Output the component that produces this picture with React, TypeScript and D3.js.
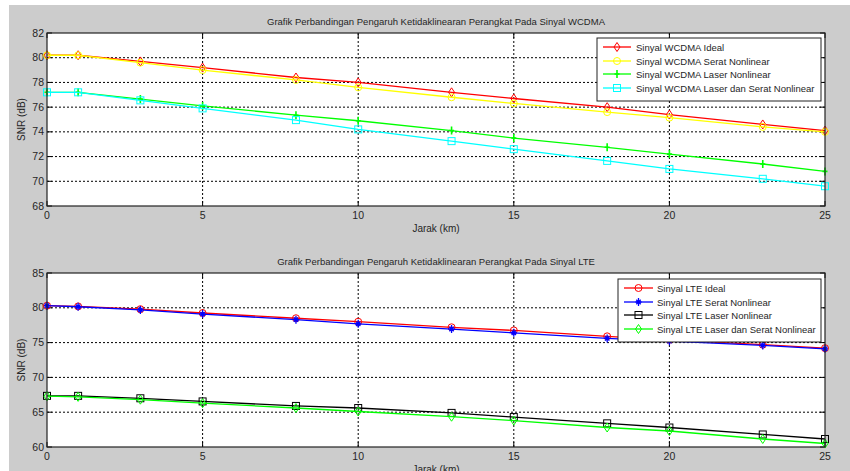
import React from "react";
import * as d3 from "d3";

const jarak = [0, 1, 3, 5, 8, 10, 13, 15, 18, 20, 23, 25];

const wcdmaIdeal = [80.2, 80.2, 79.7, 79.2, 78.4, 78.0, 77.2, 76.7, 76.0, 75.4, 74.6, 74.1];
const wcdmaSerat = [80.2, 80.2, 79.6, 79.0, 78.2, 77.6, 76.8, 76.3, 75.6, 75.15, 74.4, 74.0];
const wcdmaLaser = [77.2, 77.2, 76.65, 76.1, 75.35, 74.9, 74.1, 73.5, 72.75, 72.2, 71.4, 70.8];
const wcdmaLaserSerat = [77.2, 77.2, 76.55, 75.9, 74.95, 74.2, 73.25, 72.6, 71.65, 71.0, 70.2, 69.6];

const lteIdeal = [80.3, 80.2, 79.8, 79.25, 78.5, 78.0, 77.2, 76.75, 75.9, 75.4, 74.7, 74.2];
const lteSerat = [80.3, 80.15, 79.7, 79.1, 78.3, 77.7, 76.95, 76.4, 75.6, 75.2, 74.6, 74.1];
const lteLaser = [67.35, 67.35, 67.0, 66.55, 65.9, 65.6, 64.9, 64.3, 63.4, 62.8, 61.8, 61.15];
const lteLaserSerat = [67.3, 67.2, 66.8, 66.3, 65.6, 65.1, 64.35, 63.8, 62.8, 62.3, 61.15, 60.5];

const xTicks = [0, 5, 10, 15, 20, 25];
const yTicksTop = [68, 70, 72, 74, 76, 78, 80, 82];
const yTicksBottom = [60, 65, 70, 75, 80, 85];

const titleTop = "Grafik Perbandingan Pengaruh Ketidaklinearan Perangkat Pada Sinyal WCDMA";
const titleBottom = "Grafik Perbandingan Pengaruh Ketidaklinearan Perangkat Pada Sinyal LTE";
const xLabel = "Jarak (km)";
const yLabel = "SNR (dB)";

type Marker = "diamond" | "circle" | "plus" | "square" | "star";
interface Series {
  name: string;
  values: number[];
  color: string;
  marker: Marker;
}

const seriesTop: Series[] = [
  { name: "Sinyal WCDMA Ideal", values: wcdmaIdeal, color: "#ff0000", marker: "diamond" },
  { name: "Sinyal WCDMA Serat Nonlinear", values: wcdmaSerat, color: "#ffff00", marker: "circle" },
  { name: "Sinyal WCDMA Laser Nonlinear", values: wcdmaLaser, color: "#00ff00", marker: "plus" },
  { name: "Sinyal WCDMA Laser dan Serat Nonlinear", values: wcdmaLaserSerat, color: "#00ffff", marker: "square" },
];

const seriesBottom: Series[] = [
  { name: "Sinyal LTE Ideal", values: lteIdeal, color: "#ff0000", marker: "circle" },
  { name: "Sinyal LTE Serat Nonlinear", values: lteSerat, color: "#0000ff", marker: "star" },
  { name: "Sinyal LTE Laser Nonlinear", values: lteLaser, color: "#000000", marker: "square" },
  { name: "Sinyal LTE Laser dan Serat Nonlinear", values: lteLaserSerat, color: "#00ff00", marker: "diamond" },
];

const FONT = "'Liberation Sans', Arial, sans-serif";
const TXT = "#262626";

function MarkerShape({ type, x, y, color }: { type: Marker; x: number; y: number; color: string }) {
  const sw = 1;
  switch (type) {
    case "diamond":
      return (
        <path d={`M${x},${y - 4.5}L${x + 3},${y}L${x},${y + 4.5}L${x - 3},${y}Z`} fill="none" stroke={color} strokeWidth={sw} />
      );
    case "circle":
      return <circle cx={x} cy={y} r={3.5} fill="none" stroke={color} strokeWidth={sw} />;
    case "square":
      return <rect x={x - 3.5} y={y - 3.5} width={7} height={7} fill="none" stroke={color} strokeWidth={sw} />;
    case "plus":
      return (
        <path d={`M${x - 2.5},${y}L${x + 2.5},${y}M${x},${y - 4}L${x},${y + 4}`} stroke={color} strokeWidth={1.6} fill="none" />
      );
    case "star":
      return (
        <path
          d={`M${x - 3},${y}L${x + 3},${y}M${x},${y - 4}L${x},${y + 4}M${x - 2.2},${y - 2.2}L${x + 2.2},${y + 2.2}M${x - 2.2},${y + 2.2}L${x + 2.2},${y - 2.2}`}
          stroke={color}
          strokeWidth={1.3}
          fill="none"
        />
      );
  }
}

interface PanelProps {
  top: number;
  bottom: number;
  yDomain: [number, number];
  yTicks: number[];
  series: Series[];
  title: string;
  legend: { x0: number; x1: number; y0: number; rowY: number[]; lineX0: number; lineX1: number; textX: number };
}

const LEFT = 47;
const RIGHT = 825;

function Panel({ top, bottom, yDomain, yTicks, series, title, legend }: PanelProps) {
  const x = d3.scaleLinear().domain([0, 25]).range([LEFT, RIGHT]);
  const y = d3.scaleLinear().domain(yDomain).range([bottom, top]);
  const line = d3
    .line<number>()
    .x((_, i) => x(jarak[i]))
    .y((v) => y(v));
  const legH = legend.rowY[legend.rowY.length - 1] - legend.rowY[0] + 22;
  return (
    <g>
      <rect x={LEFT} y={top} width={RIGHT - LEFT} height={bottom - top} fill="#ffffff" />
      {xTicks.slice(1, -1).map((t) => (
        <line key={"gx" + t} x1={x(t)} x2={x(t)} y1={top} y2={bottom} stroke="#000" strokeWidth={1} strokeDasharray="2,2" />
      ))}
      {yTicks.slice(1, -1).map((t) => (
        <line key={"gy" + t} x1={LEFT} x2={RIGHT} y1={y(t)} y2={y(t)} stroke="#000" strokeWidth={1} strokeDasharray="2,2" />
      ))}
      {xTicks.map((t) => (
        <g key={"tx" + t}>
          <line x1={x(t)} x2={x(t)} y1={bottom} y2={bottom - 5} stroke="#000" />
          <line x1={x(t)} x2={x(t)} y1={top} y2={top + 5} stroke="#000" />
          <text x={x(t)} y={bottom + 13} textAnchor="middle" fontFamily={FONT} fontSize={10.5} fill={TXT}>
            {t}
          </text>
        </g>
      ))}
      {yTicks.map((t) => (
        <g key={"ty" + t}>
          <line x1={LEFT} x2={LEFT + 5} y1={y(t)} y2={y(t)} stroke="#000" />
          <line x1={RIGHT} x2={RIGHT - 5} y1={y(t)} y2={y(t)} stroke="#000" />
          <text x={LEFT - 3} y={y(t) + 3.5} textAnchor="end" fontFamily={FONT} fontSize={10.5} fill={TXT}>
            {t}
          </text>
        </g>
      ))}
      {series.map((s) => (
        <g key={s.name}>
          <path d={line(s.values) || ""} fill="none" stroke={s.color} strokeWidth={1.3} />
          {s.values.map((v, i) => (
            <MarkerShape key={i} type={s.marker} x={x(jarak[i])} y={y(v)} color={s.color} />
          ))}
        </g>
      ))}
      <rect x={LEFT} y={top} width={RIGHT - LEFT} height={bottom - top} fill="none" stroke="#222" strokeWidth={1.2} />
      <text x={(LEFT + RIGHT) / 2} y={top - 8} textAnchor="middle" fontFamily={FONT} fontSize={9.5} fill={TXT}>
        {title}
      </text>
      <text x={(LEFT + RIGHT) / 2} y={bottom + 26} textAnchor="middle" fontFamily={FONT} fontSize={10} fill={TXT}>
        {xLabel}
      </text>
      <text
        transform={`translate(${LEFT - 22},${(top + bottom) / 2}) rotate(-90)`}
        textAnchor="middle"
        fontFamily={FONT}
        fontSize={10}
        fill={TXT}
      >
        {yLabel}
      </text>
      <rect x={legend.x0} y={legend.y0} width={legend.x1 - legend.x0} height={legH} fill="#ffffff" stroke="#222" strokeWidth={1} />
      {series.map((s, i) => (
        <g key={"lg" + s.name}>
          <line x1={legend.lineX0} x2={legend.lineX1} y1={legend.rowY[i]} y2={legend.rowY[i]} stroke={s.color} strokeWidth={1.3} />
          <MarkerShape type={s.marker} x={(legend.lineX0 + legend.lineX1) / 2} y={legend.rowY[i]} color={s.color} />
          <text x={legend.textX} y={legend.rowY[i] + 3.5} fontFamily={FONT} fontSize={9.5} fill={TXT}>
            {s.name}
          </text>
        </g>
      ))}
    </g>
  );
}

export default function App() {
  return (
    <svg width={850} height={471} style={{ position: "absolute", left: 0, top: 0, display: "block" }}>
      <rect x={0} y={0} width={850} height={471} fill="#ffffff" />
      <rect x={9} y={5} width={841} height={466} fill="#cccccc" />
      <Panel
        top={33}
        bottom={206}
        yDomain={[68, 82]}
        yTicks={yTicksTop}
        series={seriesTop}
        title={titleTop}
        legend={{ x0: 597, x1: 821, y0: 38, rowY: [47, 61, 74, 88], lineX0: 603, lineX1: 631, textX: 636 }}
      />
      <Panel
        top={273}
        bottom={447}
        yDomain={[60, 85]}
        yTicks={yTicksBottom}
        series={seriesBottom}
        title={titleBottom}
        legend={{ x0: 618, x1: 821, y0: 279, rowY: [288, 302, 315, 329], lineX0: 624, lineX1: 653, textX: 657 }}
      />
    </svg>
  );
}
